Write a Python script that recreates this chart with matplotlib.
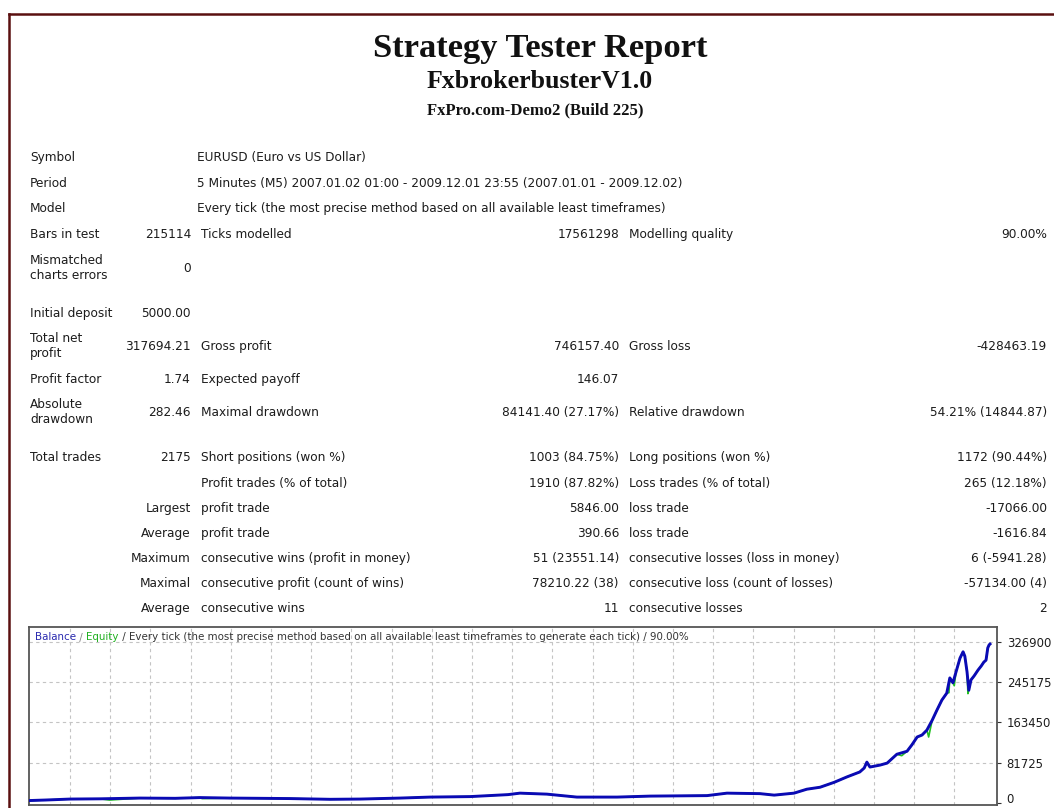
import matplotlib
matplotlib.use('Agg')
import matplotlib.pyplot as plt
from matplotlib.lines import Line2D

# ---------------- data ----------------
title_text = "Strategy Tester Report"
expert_text = "FxbrokerbusterV1.0"
server_text = "FxPro.com-Demo2 (Build 225)"

info_labels = ["Symbol", "Period", "Model"]
info_values = ["EURUSD (Euro vs US Dollar)",
               "5 Minutes (M5) 2007.01.02 01:00 - 2009.12.01 23:55 (2007.01.01 - 2009.12.02)",
               "Every tick (the most precise method based on all available least timeframes)"]

table_rows = [
    ["Bars in test", "215114", "Ticks modelled", "17561298", "Modelling quality", "90.00%"],
    ["Mismatched\ncharts errors", "0", "", "", "", ""],
    ["Initial deposit", "5000.00", "", "", "", ""],
    ["Total net\nprofit", "317694.21", "Gross profit", "746157.40", "Gross loss", "-428463.19"],
    ["Profit factor", "1.74", "Expected payoff", "146.07", "", ""],
    ["Absolute\ndrawdown", "282.46", "Maximal drawdown", "84141.40 (27.17%)", "Relative drawdown", "54.21% (14844.87)"],
    ["Total trades", "2175", "Short positions (won %)", "1003 (84.75%)", "Long positions (won %)", "1172 (90.44%)"],
    ["", "", "Profit trades (% of total)", "1910 (87.82%)", "Loss trades (% of total)", "265 (12.18%)"],
    ["", "Largest", "profit trade", "5846.00", "loss trade", "-17066.00"],
    ["", "Average", "profit trade", "390.66", "loss trade", "-1616.84"],
    ["", "Maximum", "consecutive wins (profit in money)", "51 (23551.14)", "consecutive losses (loss in money)", "6 (-5941.28)"],
    ["", "Maximal", "consecutive profit (count of wins)", "78210.22 (38)", "consecutive loss (count of losses)", "-57134.00 (4)"],
    ["", "Average", "consecutive wins", "11", "consecutive losses", "2"],
]

chart_header_parts = ["Balance", " / ", "Equity", " / Every tick (the most precise method based on all available least timeframes to generate each tick) / 90.00%"]

trades = [0, 34, 91, 159, 249, 329, 385, 453, 589, 680, 748, 838, 906, 997, 1083, 1110,
          1171, 1239, 1330, 1405, 1534, 1579, 1654, 1686, 1731, 1760, 1790, 1822, 1851, 1880,
          1890, 1896, 1903, 1926, 1942, 1964, 1987, 1998, 2010, 2021, 2032, 2044, 2055, 2066,
          2077, 2084, 2091, 2098, 2107, 2114, 2118, 2123, 2127, 2132, 2139, 2148, 2155, 2161,
          2166, 2170, 2173, 2175]
balance = [5000, 6000, 8000, 8500, 10000, 9500, 11000, 10000, 9000, 7500, 8000, 10000, 12000,
           13000, 17000, 20000, 18000, 12000, 12000, 14000, 15000, 20000, 19000, 16000, 20000,
           28000, 32000, 42000, 53000, 63000, 71000, 83000, 73000, 77000, 81000, 99000, 105000,
           118000, 134000, 138000, 148000, 168000, 189000, 209000, 223000, 254000, 244000,
           266000, 294000, 307000, 298000, 266000, 229000, 250000, 258000, 270000, 278000,
           286000, 290000, 315000, 321000, 322694]

equity_dip_trades = [180, 390, 1975, 2036, 2082, 2094, 2125]
equity_dip_values = [6000, 9000, 96000, 134000, 224000, 238000, 222000]

y_ticks = [0, 81725, 163450, 245175, 326900]

# ---------------- figure ----------------
W, H = 1054, 808
fig = plt.figure(figsize=(W / 100, H / 100), dpi=100)
fig.patch.set_facecolor('white')


def fx(x):
    return x / W


def fy(y):
    return 1 - y / H


# page border
border_c = '#5a1010'
fig.add_artist(Line2D([fx(8.5), fx(1053)], [fy(13.5), fy(13.5)], color=border_c, lw=1.8))
fig.add_artist(Line2D([fx(8.5), fx(8.5)], [fy(13.5), fy(808)], color=border_c, lw=1.8))

# titles
serif = ['Liberation Serif', 'DejaVu Serif']
fig.text(fx(540), fy(48), title_text, ha='center', va='center', fontsize=24.8,
         fontweight='bold', family=serif, color='#111111')
fig.text(fx(540), fy(82), expert_text, ha='center', va='center', fontsize=18.6,
         fontweight='bold', family=serif, color='#111111')
fig.text(fx(535), fy(110), server_text, ha='center', va='center', fontsize=12,
         fontweight='bold', family=serif, color='#111111')

# table
sans = ['DejaVu Sans']
fs = 8.7
tc = '#1c1c1c'
x_l1, x_v1, x_l2, x_v2, x_l3, x_v3 = 30, 191, 201, 619, 629, 1047
x_info = 197
info_y = [157, 183, 208]
row_y = [234, 268, 313, 346, 379, 412, 457, 483, 508, 533, 558, 583, 608]
base_off = 4


def put(x, y, s, ha):
    if not s:
        return
    if '\n' in s:
        fig.text(fx(x), fy(y), s, ha=ha, va='center', fontsize=fs, family=sans,
                 color=tc, linespacing=1.2)
    else:
        fig.text(fx(x), fy(y + base_off), s, ha=ha, va='baseline', fontsize=fs,
                 family=sans, color=tc)


for lab, val, y in zip(info_labels, info_values, info_y):
    put(x_l1, y, lab, 'left')
    put(x_info, y, val, 'left')

for row, y in zip(table_rows, row_y):
    l1, v1, l2, v2, l3, v3 = row
    put(x_l1, y, l1, 'left')
    put(x_v1, y, v1, 'right')
    put(x_l2, y, l2, 'left')
    put(x_v2, y, v2, 'right')
    put(x_l3, y, l3, 'left')
    put(x_v3, y, v3, 'right')

# ---------------- chart ----------------
left_px, right_px, top_px, bot_px = 29, 997, 627, 805
ax = fig.add_axes([fx(left_px), fy(bot_px), (right_px - left_px) / W, (bot_px - top_px) / H])
px_per_trade = 960 / 2175.0
x0 = (left_px - 30) / px_per_trade
x1 = (right_px - 30) / px_per_trade
ax.set_xlim(x0, x1)
ax.set_ylim(-4060, 357300)

# grid
grid_c = '#c4c4c4'
for k in range(23):
    gx = 70 + 40.2 * k
    xv = x0 + (gx - left_px) / (right_px - left_px) * (x1 - x0)
    ax.axvline(xv, color=grid_c, lw=0.8, ls=(0, (3, 3)), zorder=1)
for yt in y_ticks[1:]:
    ax.axhline(yt, color=grid_c, lw=0.8, ls=(0, (3, 3)), zorder=1)

# equity (green) built from balance plus dips, then balance (blue) on top
eq = sorted(list(zip(trades, balance)) + list(zip(equity_dip_trades, equity_dip_values)))
ax.plot([p[0] for p in eq], [p[1] for p in eq], color='#22c022', lw=1.2, zorder=2)
ax.plot(trades, balance, color='#0a0ab4', lw=2.1, zorder=3)

ax.set_xticks([])
ax.yaxis.tick_right()
ax.set_yticks(y_ticks)
ax.set_yticklabels([str(v) for v in y_ticks])
ax.tick_params(axis='y', length=3, width=0.8, pad=4, labelsize=8.4, colors='#333333',
               labelcolor='#1c1c1c')
# keep the bottom "0" label inside the picture
ax.get_yticklabels()[0].set_verticalalignment('baseline')
for sp in ax.spines.values():
    sp.set_color('#555555')
    sp.set_linewidth(1.3)

# chart header with coloured parts
renderer = fig.canvas.get_renderer()
colors = ['#2a2ab0', '#888888', '#20b020', '#333333']
cx = 35
for part, c in zip(chart_header_parts, colors):
    t = fig.text(fx(cx), fy(637 + 3.5), part, ha='left', va='baseline', fontsize=7.4,
                 family=sans, color=c)
    bb = t.get_window_extent(renderer)
    cx += bb.width

fig.savefig('out.png', dpi=100, facecolor='white')
